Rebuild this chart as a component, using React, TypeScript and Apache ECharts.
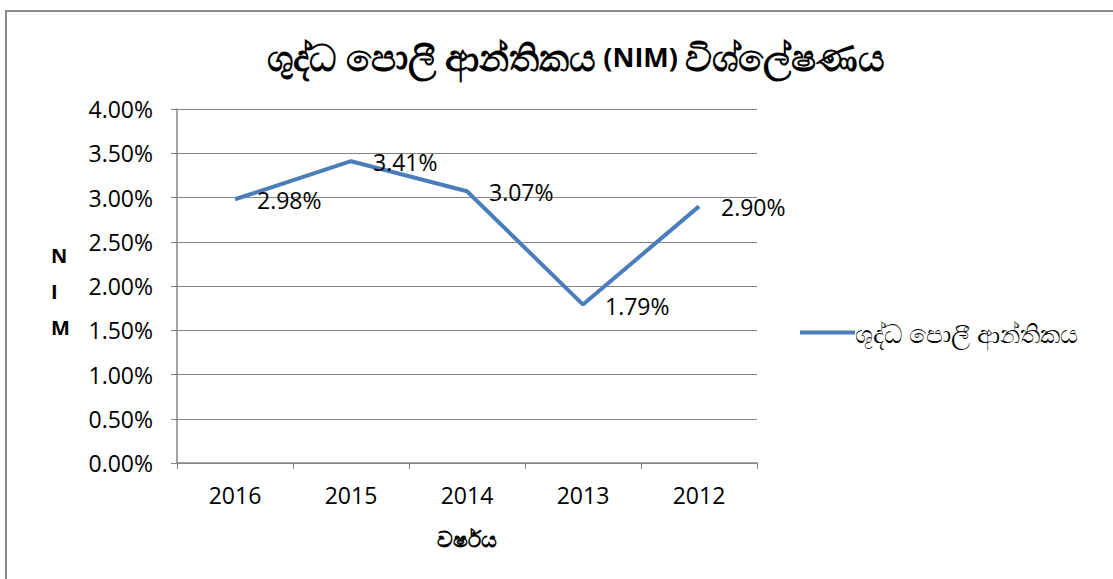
import React, { useEffect, useRef } from "react";
import * as echarts from "echarts";

const categories = ["2016", "2015", "2014", "2013", "2012"];
const nimValues = [2.98, 3.41, 3.07, 1.79, 2.9];
const seriesName = "ශුද්ධ පොලී ආන්තිකය";
const titlePart1 = "ශුද්ධ පොලී ආන්තිකය";
const titlePart2 = "(NIM)";
const titlePart3 = "විශ්ලේෂණය";
const xAxisName = "වර්ෂය";
const yAxisName = "N\nI\nM";

const latin = "'Open Sans', 'Noto Sans', sans-serif";

export default function App() {
  const ref = useRef<HTMLDivElement>(null);
  useEffect(() => {
    document.body.style.margin = "0";
    const chart = echarts.init(ref.current!, null, { renderer: "svg" });
    chart.setOption({
      animation: false,
      backgroundColor: "#ffffff",
      title: {
        text: `{s|${titlePart1}} {l|${titlePart2}} {s|${titlePart3}}`,
        left: 571,
        top: 33,
        textAlign: "center",
        textStyle: {
          fontSize: 27,
          fontWeight: "bold",
          color: "#000",
          fontFamily: latin,
          rich: {
            s: { fontSize: 37, fontWeight: "bold", color: "#000", fontFamily: latin },
            l: { fontSize: 27, fontWeight: "bold", color: "#000", fontFamily: latin },
          },
        },
      },
      legend: {
        orient: "vertical",
        left: 795,
        top: 315,
        itemWidth: 55,
        itemHeight: 4,
        itemGap: 0,
        icon: "rect",
        data: [{ name: seriesName, itemStyle: { color: "#4a7ebb" } }],
        textStyle: { fontSize: 25, color: "#000", padding: [0, 0, 0, -5], fontFamily: latin },
      },
      grid: { left: 177, right: 356, top: 109, bottom: 116 },
      xAxis: {
        type: "category",
        data: categories,
        boundaryGap: true,
        name: xAxisName,
        nameLocation: "middle",
        nameGap: 64,
        nameTextStyle: { fontSize: 22, fontWeight: "bold", color: "#000", fontFamily: latin },
        axisLine: { lineStyle: { color: "#868686", width: 1.5 } },
        axisTick: { show: true, length: 6, lineStyle: { color: "#868686" } },
        axisLabel: { fontSize: 23, color: "#000", margin: 20, fontFamily: latin },
      },
      yAxis: {
        type: "value",
        min: 0,
        max: 4,
        interval: 0.5,
        axisLine: { show: true, lineStyle: { color: "#868686", width: 1.5 } },
        axisTick: { show: true, length: 6, lineStyle: { color: "#868686" } },
        splitLine: { show: true, lineStyle: { color: "#868686", width: 1.2 } },
        axisLabel: {
          fontSize: 23,
          color: "#000",
          margin: 24,
          fontFamily: latin,
          formatter: (v: number) => v.toFixed(2) + "%",
        },
      },
      series: [
        {
          name: seriesName,
          type: "line",
          data: nimValues,
          symbol: "circle",
          symbolSize: 0,
          showSymbol: true,
          lineStyle: { color: "#4a7ebb", width: 4 },
          itemStyle: { color: "#4a7ebb" },
          label: {
            show: true,
            position: "right",
            distance: 22,
            offset: [0, 1],
            fontSize: 23,
            color: "#000",
            fontFamily: latin,
            formatter: (p: any) => Number(p.value).toFixed(2) + "%",
          },
        },
      ],
      graphic: [
        {
          type: "rect",
          shape: { x: 6, y: 11, width: 1200, height: 700 },
          style: { fill: "none", stroke: "#8a8a8a", lineWidth: 2 },
          silent: true,
        },
        {
          type: "text",
          left: 51,
          top: 237,
          style: {
            text: yAxisName,
            fontSize: 20,
            fontWeight: "bold",
            fill: "#000",
            fontFamily: latin,
            lineHeight: 36,
            align: "center",
          },
        },
      ],
    });
    return () => chart.dispose();
  }, []);
  return <div ref={ref} style={{ width: 1113, height: 579 }} />;
}
